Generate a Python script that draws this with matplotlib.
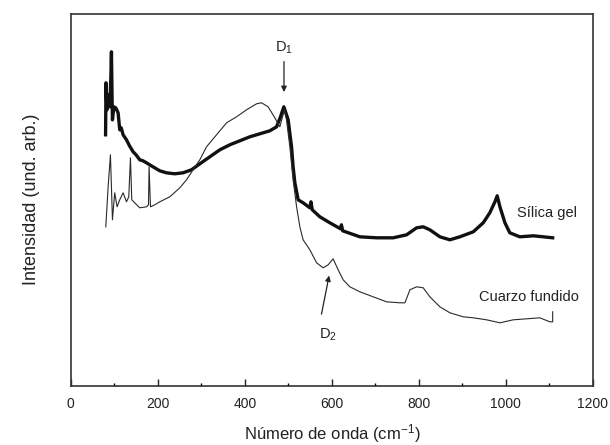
import numpy as np
import matplotlib
matplotlib.use('Agg')
import matplotlib.pyplot as plt
from matplotlib.ticker import MultipleLocator

plt.rcParams['font.family'] = ['Liberation Sans', 'DejaVu Sans']
plt.rcParams['mathtext.fontset'] = 'custom'
plt.rcParams['mathtext.rm'] = 'Liberation Sans'
plt.rcParams['mathtext.it'] = 'Liberation Sans:italic'

# Silica gel (thick trace)
silica_wn = [80, 81, 83, 86, 89.7, 92, 93.5, 95, 95.8, 98.9, 103.4, 108.8, 112.6, 116,
             120.3, 128, 135, 143.3, 150, 158.6, 166, 174, 189, 204.6, 220, 239, 258,
             277.5, 296.6, 319.6, 342.6, 365.5, 388.5, 411.5, 434.5, 457.5, 473, 482,
             489.7, 499.6, 507.4, 511, 515, 522.6, 534, 549.5, 552, 555, 572.5, 595.4,
             620, 622, 625, 664.4, 702.8, 741, 771.8, 794.8, 810, 825.3, 848.3,
             871.3, 894.2, 925, 947.9, 963, 974.8, 980, 986.3, 997.8, 1009, 1032, 1063,
             1086, 1107.5]
silica_int = [251, 303, 276, 291, 279, 306, 334, 286, 266, 279, 278, 273, 256, 258,
              251, 246, 240, 234, 231, 226, 225, 223, 219, 215, 213, 212, 213,
              216, 222, 229, 236, 241, 245, 249, 252, 255, 259, 269,
              279, 266, 239, 219, 203, 186, 183, 178, 184, 176, 169, 163,
              157, 161, 155, 149, 148, 148, 151, 158, 159, 156, 149,
              146, 149, 154, 163, 173, 184, 190, 179, 163, 153, 149, 150,
              149, 148]

# Cuarzo fundido (thin trace)
cuarzo_wn = [80.5, 85.9, 91.2, 95.8, 101, 106.5, 112.6, 120.3, 128, 133.3, 137.2, 140.2,
             147, 158.6, 174, 178.6, 180, 183.2, 193, 204.6, 227.6, 250.6, 266, 281,
             296.6, 312, 335, 358, 381, 404, 427, 438.4, 453.6, 469, 480.5, 486.6,
             491.3, 495.8, 503.5, 511, 519, 526.5, 534, 549.5, 565, 580, 591.5, 603,
             614.5, 626, 641.4, 664.4, 695, 725.8, 756.4, 768, 779.4, 794.8, 810,
             825.3, 848.3, 871.3, 902, 925, 955.7, 986.3, 1017, 1047.7, 1078, 1101,
             1107.5, 1107.5]
cuarzo_int = [159, 199, 231, 166, 193, 179, 186, 193, 184, 189, 228, 186,
              183, 178, 179, 181, 219, 179, 181, 184, 189, 198, 206, 216,
              226, 239, 251, 263, 269, 276, 282, 283, 279, 268, 259, 269,
              276, 266, 239, 206, 179, 159, 146, 136, 123, 118, 121, 127,
              116, 106, 99, 94, 89, 84, 83, 83, 96, 99, 98,
              89, 79, 73, 69, 68, 66, 63, 66, 67, 68, 64,
              64, 74]

xticks = [0, 200, 400, 600, 800, 1000, 1200]

fig = plt.figure(figsize=(6.1, 4.45), dpi=100)
ax = fig.add_axes([0.116, 0.133, 0.856, 0.836])

ax.plot(silica_wn, silica_int, color='#111111', lw=2.4, solid_joinstyle='round')
ax.plot(cuarzo_wn, cuarzo_int, color='#2a2a2a', lw=0.8)

ax.set_xlim(0, 1200)
ax.set_ylim(0, 372)
ax.set_xticks(xticks)
ax.xaxis.set_minor_locator(MultipleLocator(100))
ax.set_yticks([])
ax.tick_params(axis='x', which='major', direction='in', length=4.7, width=1.0,
               pad=8, labelsize=10, colors='#222222')
ax.tick_params(axis='x', which='minor', direction='in', length=2.0, width=1.0)
for s in ax.spines.values():
    s.set_linewidth(1.2)
    s.set_color('#333333')

ax.set_xlabel('Número de onda (cm$^{-1}$)', fontsize=12, color='#222222', labelpad=8)
ax.set_ylabel('Intensidad (und. arb.)', fontsize=13, color='#222222', labelpad=22)

# peak labels
ax.annotate('', xy=(490, 291), xytext=(490, 327),
            arrowprops=dict(arrowstyle='-|>', color='#222222', lw=0.9,
                            mutation_scale=8))
ax.text(490, 338, 'D$_1$', ha='center', va='center', fontsize=10.5, color='#222222')
ax.annotate('', xy=(595, 113), xytext=(575, 69),
            arrowprops=dict(arrowstyle='-|>', color='#222222', lw=0.9,
                            mutation_scale=8))
ax.text(591, 51, 'D$_2$', ha='center', va='center', fontsize=10.5, color='#222222')

ax.text(1025, 173, 'Sílica gel', ha='left', va='center', fontsize=10.5, color='#222222')
ax.text(939, 89, 'Cuarzo fundido', ha='left', va='center', fontsize=10.5, color='#222222')

fig.savefig('out.png', dpi=100)
